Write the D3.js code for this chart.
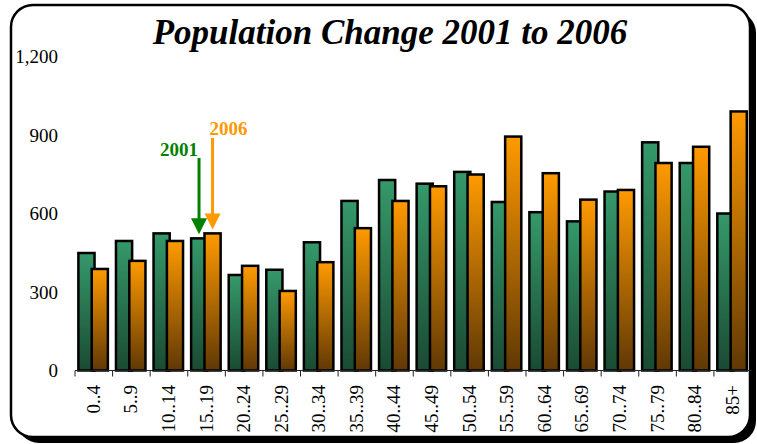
<!DOCTYPE html>
<html>
<head>
<meta charset="utf-8">
<script src="https://cdn.jsdelivr.net/npm/d3@7"></script>
<style>
  body { margin: 0; background: #fff; }
  svg { display: block; }
  text { font-family: "Liberation Serif", "Times New Roman", serif; }
</style>
</head>
<body>
<svg id="chart" width="757" height="444"></svg>
<script>
const ageGroups = ["0..4", "5..9", "10..14", "15..19", "20..24", "25..29", "30..34", "35..39", "40..44",
    "45..49", "50..54", "55..59", "60..64", "65..69", "70..74", "75..79", "80..84", "85+"]
const pop2001 = [449, 495, 524, 505, 365, 385, 490, 648, 728, 714, 759, 644, 605, 570, 684, 872, 793, 600]
const pop2006 = [388, 419, 495, 524, 400, 304, 414, 544, 648, 704, 749, 894, 754, 653, 690, 793, 855, 990]
const yTicks = [0, 300, 600, 900, 1200]

const svg = d3.select("#chart")

// frame with drop shadow
svg.append("rect")
    .attr("x", 17).attr("y", 11)
    .attr("width", 739).attr("height", 432)
    .attr("rx", 22)
    .attr("fill", "#000")
svg.append("rect")
    .attr("x", 11).attr("y", 5)
    .attr("width", 739).attr("height", 432)
    .attr("rx", 22)
    .attr("fill", "#fff")
    .attr("stroke", "#000")
    .attr("stroke-width", 2.5)

svg.append("text")
    .attr("x", 390)
    .attr("y", 44)
    .attr("text-anchor", "middle")
    .style("font-size", "35px")
    .style("font-weight", "bold")
    .style("font-style", "italic")
    .text("Population Change 2001 to 2006")

const x = d3.scaleBand()
    .domain(ageGroups)
    .range([75, 751.5])

const y = d3.scaleLinear()
    .domain([0, 1200])
    .range([370.5, 56.5])

const bw = x.bandwidth()

const defs = svg.append("defs")
function grad(id, top, bottom) {
    const g = defs.append("linearGradient")
        .attr("id", id)
        .attr("x1", 0).attr("y1", 0).attr("x2", 0).attr("y2", 1)
    g.append("stop").attr("offset", "0%").attr("stop-color", top)
    g.append("stop").attr("offset", "100%").attr("stop-color", bottom)
}
grad("gGreen", "#35996a", "#1a4a33")
grad("gOrange", "#ff9a00", "#603805")

// y labels
svg.selectAll(".ylab")
    .data(yTicks)
    .enter()
    .append("text")
    .attr("class", "ylab")
    .attr("x", 58)
    .attr("y", d => y(d))
    .attr("dy", "0.35em")
    .attr("text-anchor", "end")
    .style("font-size", "19px")
    .text(d => d3.format(",")(d))

// bars
const groups = svg.selectAll(".grp")
    .data(ageGroups)
    .enter()
    .append("g")
    .attr("class", "grp")

groups.append("rect")
    .attr("x", d => x(d) + bw * 0.09)
    .attr("y", (d, i) => y(pop2001[i]))
    .attr("width", bw * 0.43)
    .attr("height", (d, i) => y(0) - y(pop2001[i]))
    .attr("fill", "url(#gGreen)")
    .attr("stroke", "#000")
    .attr("stroke-width", 2.5)

groups.append("rect")
    .attr("x", d => x(d) + bw * 0.445)
    .attr("y", (d, i) => y(pop2006[i]))
    .attr("width", bw * 0.43)
    .attr("height", (d, i) => y(0) - y(pop2006[i]))
    .attr("fill", "url(#gOrange)")
    .attr("stroke", "#000")
    .attr("stroke-width", 2.5)

// x axis
svg.append("line")
    .attr("x1", x.range()[0]).attr("x2", x.range()[1])
    .attr("y1", y(0)).attr("y2", y(0))
    .attr("stroke", "#222")
    .attr("stroke-width", 1)

svg.selectAll(".tick")
    .data(ageGroups)
    .enter()
    .append("line")
    .attr("x1", d => x(d)).attr("x2", d => x(d))
    .attr("y1", y(0)).attr("y2", y(0) + 6)
    .attr("stroke", "#222")

svg.selectAll(".xlab")
    .data(ageGroups)
    .enter()
    .append("text")
    .attr("transform", d => `translate(${x(d) + bw / 2 + 6},385) rotate(-90)`)
    .attr("text-anchor", "end")
    .style("font-size", "19px")
    .text(d => d)

// annotation arrows on 15..19
const k = ageGroups.indexOf("15..19")
const arrows = [
    { label: "2001", color: "#008000", cx: x(ageGroups[k]) + bw * 0.3, top: 158, val: pop2001[k], tx: -39, ty: 156 },
    { label: "2006", color: "#ff9900", cx: x(ageGroups[k]) + bw * 0.66, top: 138, val: pop2006[k], tx: -3, ty: 135 }
]
arrows.forEach(a => {
    const tip = y(a.val) - 4
    svg.append("line")
        .attr("x1", a.cx).attr("x2", a.cx)
        .attr("y1", a.top).attr("y2", tip - 14)
        .attr("stroke", a.color)
        .attr("stroke-width", 3)
    svg.append("path")
        .attr("d", `M${a.cx - 8},${tip - 16} L${a.cx + 8},${tip - 16} L${a.cx},${tip} Z`)
        .attr("fill", a.color)
    svg.append("text")
        .attr("x", a.cx + a.tx)
        .attr("y", a.ty)
        .attr("fill", a.color)
        .style("font-size", "19px")
        .style("font-weight", "bold")
        .text(a.label)
})
</script>
</body>
</html>
